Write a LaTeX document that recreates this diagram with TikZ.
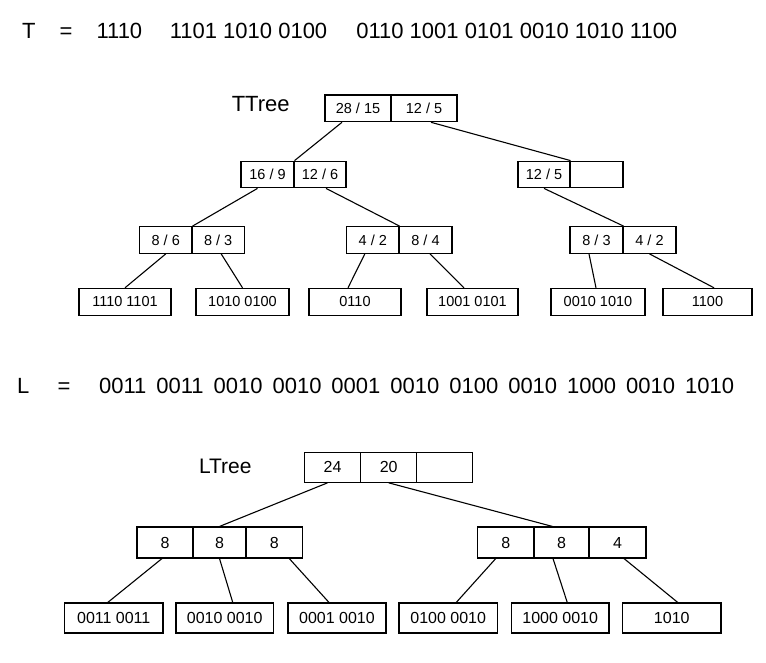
\documentclass[tikz,border=0pt]{standalone}
\usepackage{fontspec}
\setmainfont{Liberation Sans}
\begin{document}
\begin{tikzpicture}[x=1pt,y=-1pt, line width=1.1pt,
  big/.style={inner sep=0pt, anchor=base west, font=\fontsize{22}{26}\selectfont},
  tcell/.style={draw, inner sep=0pt, minimum height=26.7pt, font=\fontsize{14.5}{17}\selectfont},
  lcell/.style={draw, inner sep=0pt, minimum height=30pt, font=\fontsize{16}{19}\selectfont},
  link/.style={line width=1.1pt}]
\useasboundingbox (0,0) rectangle (766,663);

% ---- header lines ----
\node[big] (tT) at (21.5,38.3) {T};
\node[big] (teq) at (59,38.3) {=};
\node[big] (tg1) at (96,38.3) {1110};
\node[big] (tg2) at (169.3,38.3) {1101 1010 0100};
\node[big] (tg3) at (355.8,38.3) {0110 1001 0101 0010 1010 1100};

\node[big] (lL) at (16.5,393.3) {L};
\node[big] (leq) at (57,393.3) {=};
\node[big] (lseq) at (98.5,393.3) {\spaceskip=10pt 0011 0011 0010 0010 0001 0010 0100 0010 1000 0010 1010};

% ---- TTree ----
\node[big] (tlab) at (231.2,111.7) {TTree};
\node[tcell, minimum width=66pt] (r1) at (358,108.4) {28 / 15};
\node[tcell, minimum width=66pt] (r2) at (424,108.4) {12 / 5};

\node[tcell, minimum width=53pt] (a1) at (267.5,174.5) {16 / 9};
\node[tcell, minimum width=52pt] (a2) at (320,174.5) {12 / 6};
\node[tcell, minimum width=52pt] (b1) at (544,174.5) {12 / 5};
\node[tcell, minimum width=53pt] (b2) at (596.5,174.5) {};

\node[tcell, minimum width=52.5pt] (c1) at (165.75,240) {8 / 6};
\node[tcell, minimum width=52.4pt] (c2) at (218.2,240) {8 / 3};
\node[tcell, minimum width=52.4pt] (d1) at (372.8,240) {4 / 2};
\node[tcell, minimum width=53pt] (d2) at (425.5,240) {8 / 4};
\node[tcell, minimum width=53pt] (e1) at (596.5,240) {8 / 3};
\node[tcell, minimum width=53pt] (e2) at (649.5,240) {4 / 2};

\node[tcell, minimum width=92pt] (tl1) at (125,301.7) {1110 1101};
\node[tcell, minimum width=93pt] (tl2) at (242.5,301.7) {1010 0100};
\node[tcell, minimum width=92pt] (tl3) at (355,301.7) {0110};
\node[tcell, minimum width=91pt] (tl4) at (472.5,301.7) {1001 0101};
\node[tcell, minimum width=94pt] (tl5) at (598,301.7) {0010 1010};
\node[tcell, minimum width=89pt] (tl6) at (707.5,301.7) {1100};

\draw[link] ([xshift=-16pt]r1.south) -- (a1.north east);
\draw[link] ([xshift=7pt]r2.south) -- (b1.north east);
\draw[link] ([xshift=-10pt]a1.south) -- (c1.north east);
\draw[link] ([xshift=6pt]a2.south) -- (d1.north east);
\draw[link] (b1.south) -- (e1.north east);
\draw[link] (c1.south) -- (tl1.north);
\draw[link] ([xshift=3pt]c2.south) -- (tl2.north);
\draw[link] ([xshift=-8pt]d1.south) -- ([xshift=-7pt]tl3.north);
\draw[link] ([xshift=4.5pt]d2.south) -- ([xshift=-8.5pt]tl4.north);
\draw[link] ([xshift=-7.5pt]e1.south) -- ([xshift=-2pt]tl5.north);
\draw[link] (e2.south) -- ([xshift=6.5pt]tl6.north);

% ---- LTree ----
\node[big, font=\fontsize{21}{25}\selectfont] (llab) at (198.5,473.3) {LTree};
\node[lcell, minimum width=56.4pt] (p1) at (332.5,467.3) {24};
\node[lcell, minimum width=56pt] (p2) at (388.7,467.3) {20};
\node[lcell, minimum width=56pt] (p3) at (444.7,467.3) {};

\node[lcell, minimum height=31pt, minimum width=56pt] (q1) at (165,542.5) {8};
\node[lcell, minimum height=31pt, minimum width=53pt] (q2) at (219.5,542.5) {8};
\node[lcell, minimum height=31pt, minimum width=56.5pt] (q3) at (274.25,542.5) {8};
\node[lcell, minimum height=31pt, minimum width=56.5pt] (s1) at (505.75,542.5) {8};
\node[lcell, minimum height=31pt, minimum width=55pt] (s2) at (561.5,542.5) {8};
\node[lcell, minimum height=31pt, minimum width=57pt] (s3) at (617.5,542.5) {4};

\node[lcell, minimum width=98.5pt] (m1) at (113.75,618) {0011 0011};
\node[lcell, minimum width=97.5pt] (m2) at (224.75,618) {0010 0010};
\node[lcell, minimum width=98pt] (m3) at (337,618) {0001 0010};
\node[lcell, minimum width=98.5pt] (m4) at (448.25,618) {0100 0010};
\node[lcell, minimum width=97.5pt] (m5) at (560.25,618) {1000 0010};
\node[lcell, minimum width=98.5pt] (m6) at (671.75,618) {1010};

\draw[link] ([xshift=-5pt]p1.south) -- (q2.north);
\draw[link] (p2.south) -- ([xshift=-9pt]s2.north);
\draw[link] ([xshift=-3pt]q1.south) -- ([xshift=-6pt]m1.north);
\draw[link] (q2.south) -- ([xshift=8pt]m2.north);
\draw[link] ([xshift=15pt]q3.south) -- ([xshift=-8pt]m3.north);
\draw[link] ([xshift=-10pt]s1.south) -- ([xshift=8pt]m4.north);
\draw[link] ([xshift=-8.5pt]s2.south) -- ([xshift=7pt]m5.north);
\draw[link] ([xshift=6.5pt]s3.south) -- ([xshift=6pt]m6.north);
\end{tikzpicture}
\end{document}
